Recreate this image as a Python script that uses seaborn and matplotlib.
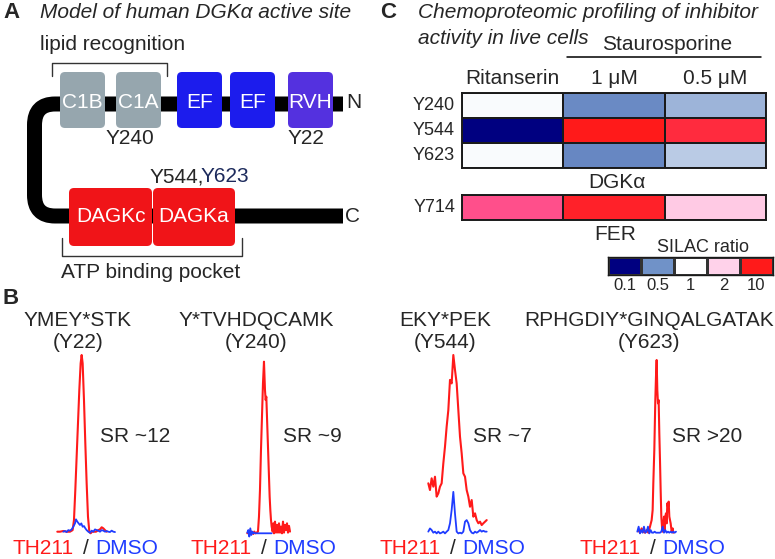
import numpy as np
import pandas as pd
import seaborn as sns
import matplotlib.pyplot as plt
from matplotlib.patches import FancyBboxPatch, PathPatch
from matplotlib.path import Path
from matplotlib.colors import LinearSegmentedColormap, LogNorm

W, H = 775, 559
RED = '#ff1a1a'
BLUE = '#1f3cff'

# panel A - domain map of DGKa
top_domains = ['C1B', 'C1A', 'EF', 'EF', 'RVH']
top_left = [60, 116, 177, 230, 288]
top_colors = ['#96a6ae', '#96a6ae', '#1c1ced', '#1c1ced', '#5431df']
bottom_domains = ['DAGKc', 'DAGKa']
bottom_left = [69, 153]
bottom_width = [83, 82]

# panel C - SILAC ratios
conditions = ['Ritanserin', '1 μM', '0.5 μM']
dgk_sites = ['Y240', 'Y544', 'Y623']
ratio_Y240 = [0.97, 0.46, 0.62]
ratio_Y544 = [0.1, 10, 8]
ratio_Y623 = [0.98, 0.44, 0.72]
fer_sites = ['Y714']
ratio_Y714 = [5, 9, 2.1]
silac_ticks = [0.1, 0.5, 1, 2, 10]
silac_labels = ['0.1', '0.5', '1', '2', '10']

# panel B - extracted ion chromatograms (relative intensity)
red1_rt = [2.2, 3.0, 4.0, 5.0, 6.0, 6.8, 7.2, 7.6, 8.0, 8.4, 8.8, 9.2, 9.5, 9.8, 10.2,
           10.6, 11.0, 11.4, 11.8, 12.2, 12.6, 13.2, 13.8, 14.5, 15.0, 15.5, 16.0, 16.5, 17.0]
red1_int = [0, 0, 0.4, 0, 0, 0.9, 6.6, 23.6, 42.5, 61.3, 80.2, 95.3, 100, 95.3, 74.5,
            50, 27.4, 8.5, 0, -0.9, 0, 0, 0, 0.9, 1.3, 2.5, 1.9, 0.9, 0]
blue1_rt = [4.0, 4.5, 5.0, 5.5, 6.0, 6.5, 7.0, 7.5, 7.8, 8.2, 8.6, 9.0, 9.4, 9.8, 10.2, 10.6, 11.0,
            11.5, 12.0, 12.5, 13.0, 13.5, 14.0, 14.5, 15.0, 15.5, 16.0, 16.5, 17.0, 17.5, 18.0,
            18.5, 19.0, 19.5]
blue1_int = [0, 0.4, -0.2, 0.9, 0.6, 1.3, 2.8, 4.7, 7, 5.7, 4.7, 3.8, 4.7, 2.8, 3.2, 1.9, 0.9,
             0, -0.6, 0.6, 0, 1.3, 0.9, 0.6, 0, 0.9, 0.6, 0, 0.4, 0, -0.2, 0.6, 0, -0.2]

red2_rt = [2.2, 2.5, 2.8, 3.1, 3.4, 3.7, 4.0, 4.3, 4.6, 5.0, 5.4, 5.7, 6.0, 6.3, 6.6, 6.9,
           7.2, 7.5, 7.7, 7.9, 8.1, 8.3, 8.5, 8.7, 8.9, 9.1, 9.3, 9.5, 9.8, 10.0, 10.2, 10.5,
           10.8, 11.1, 11.4, 11.7, 12.0, 12.3, 12.6, 12.9, 13.2, 13.5, 13.8, 14.1, 14.4, 14.7, 15.0]
red2_int = [0, 1, -0.4, 1.6, 0, 0.4, -0.4, 1, 0, 0.4, 1, 9.7, 25.2, 48.5, 67.9, 87.4,
            100, 83.5, 77.7, 79.6, 67.9, 56.3, 44.7, 33, 21.4, 13.6, 7.8, 3.9, 1, 5.8, 0, 6.8,
            0.4, 4.9, 0.4, 5.8, 0.4, 3.9, 0, 6.8, 0.4, 4.9, 1.9, 5.8, 0.4, 4.3, 1]
blue2_rt = [2.2, 2.5, 2.8, 3.1, 3.4, 3.7, 4.0, 4.3, 4.6, 5.0, 6.0, 7.0, 8.0, 9.0, 9.5]
blue2_int = [0.4, 1.9, -1.9, 2.9, -1, 1, 0, 0.4, 0, 0, 0, 0, 0, 0, 0]

red3_rt = [2.5, 3.0, 3.5, 4.0, 4.5, 5.0, 5.5, 6.0, 6.5, 7.0, 7.5, 8.0, 8.5, 9.0, 9.5, 10.0,
           10.5, 11.0, 11.5, 12.0, 12.5, 13.0, 13.5, 14.0, 14.5, 15.0, 15.5, 16.0, 16.5, 17.0,
           17.5, 18.0, 18.5, 19.0, 19.5, 20.0]
red3_int = [27.8, 24, 30.6, 25.9, 31.5, 20.3, 22.1, 25.9, 27.8, 39, 48.4, 59.7, 69, 86, 84, 100,
            91.6, 84, 69, 54, 44.7, 33.4, 31.5, 24, 20.3, 14.6, 18.4, 9, 10.9, 7.1,
            5.3, 6.2, 4.3, 5.3, 6.2, 7.1]
blue3_rt = red3_rt
blue3_int = [0.6, 2.4, 1.5, 0, 0.6, -0.4, 0.6, -0.4, 0, 0.6, -0.4, 0.6, 1.5, 5.3, 12.8, 23,
             10.7, 0.6, -0.4, 0, -0.4, 0.6, 6.2, 7.1, 5.3, 1.5, 0, -0.4, 0.6, 0,
             0.6, 1.5, 0.6, 1.1, 0.6, 0.6]

red4_rt = [2.5, 3.0, 3.5, 4.0, 4.5, 5.0, 5.5, 6.0, 6.5, 6.8, 7.0, 7.3, 7.6, 7.8, 8.0, 8.2,
           8.4, 8.6, 8.8, 9.0, 9.2, 9.4, 9.6, 9.8, 10.0, 10.2, 10.4, 10.6, 10.8, 11.0,
           11.2, 11.4, 11.6, 11.8, 12.0, 12.2, 12.5, 12.8, 13.0]
red4_int = [1.5, 0, 2.5, 0.6, 0, 1.5, 0, 3.5, 7.3, 13.1, 28.6, 47.9, 76.8, 90.3, 100, 82.6,
            74.9, 76.8, 57.5, 42.1, 24.7, 9.3, 3.5, 0.6, 5.4, 9.3, 1.5, 9.3, 11.2, 5.4,
            17, 15.1, 18, 9.3, 7.3, 5.4, 0.6, 2.5, 0]
blue4_rt = [2.2, 2.6, 3.0, 3.4, 3.8, 4.2, 4.6, 5.0, 5.4, 5.8, 6.2, 6.6, 7.0, 7.4, 7.8, 8.2,
            8.6, 9.0, 9.4, 9.8, 10.2, 10.6, 11.0, 11.4, 11.8, 12.2, 12.6, 13.0, 13.4, 13.8]
blue4_int = [0.6, 3.5, -0.4, 1.5, 0, 3.5, 0, 0.6, 3.5, -0.4, 1.5, 0, 0, 0.6, 0, 0,
             0, 0, 0.6, 3.5, 0, 1.5, 0, 0.6, 0, 0.6, 0, 0.6, 0, 0.6]

peptides = ['YMEY*STK', 'Y*TVHDQCAMK', 'EKY*PEK', 'RPHGDIY*GINQALGATAK']
sites = ['(Y22)', '(Y240)', '(Y544)', '(Y623)']
sr_labels = ['SR ~12', 'SR ~9', 'SR ~7', 'SR >20']

sns.set_theme(style='white')
plt.rcParams['font.family'] = ['Liberation Sans', 'DejaVu Sans']

fig = plt.figure(figsize=(W / 100, H / 100), dpi=100)


def px_axes(x0, y0, x1, y1):
    return fig.add_axes([x0 / W, 1 - y1 / H, (x1 - x0) / W, (y1 - y0) / H])


ax0 = px_axes(0, 0, W, H)
ax0.set_xlim(0, W)
ax0.set_ylim(H, 0)
ax0.axis('off')

# ---- Panel A ----
ax0.text(3, 12, 'A', fontsize=16, fontweight='bold', va='center')
ax0.text(40, 13, 'Model of human DGKα active site', fontsize=15, style='italic', va='center')
ax0.text(40, 45, 'lipid recognition', fontsize=15, va='center')

verts = [(343, 104), (55, 104), (34.5, 104), (34.5, 125), (34.5, 195),
         (34.5, 216), (55, 216), (343, 216)]
codes = [Path.MOVETO, Path.LINETO, Path.CURVE3, Path.CURVE3, Path.LINETO,
         Path.CURVE3, Path.CURVE3, Path.LINETO]
ax0.add_patch(PathPatch(Path(verts, codes), fill=False, lw=10.8, edgecolor='black',
                        capstyle='butt', joinstyle='round'))

for name, left, col in zip(top_domains, top_left, top_colors):
    ax0.add_patch(FancyBboxPatch((left, 72), 45, 56, boxstyle='round,pad=0,rounding_size=5',
                                 fc=col, ec='none'))
    ax0.text(left + 22.5, 103, name, color='white', fontsize=15, ha='center', va='center')
for name, left, w in zip(bottom_domains, bottom_left, bottom_width):
    ax0.add_patch(FancyBboxPatch((left, 188), w, 58, boxstyle='round,pad=0,rounding_size=5',
                                 fc='#f01418', ec='none'))
    ax0.text(left + w / 2, 216, name, color='white', fontsize=15, ha='center', va='center')

ax0.plot([51.7, 51.7, 166.7, 166.7], [76, 62.7, 62.7, 76], color='#333333', lw=1)
ax0.plot([61.7, 61.7, 241.7, 241.7], [238, 256, 256, 238], color='#333333', lw=1)
ax0.text(130, 138, 'Y240', fontsize=15, ha='center', va='center')
ax0.text(306, 138, 'Y22', fontsize=15, ha='center', va='center')
ax0.text(346, 103, 'N', fontsize=15, va='center')
ax0.text(345, 216, 'C', fontsize=15, va='center')
ax0.text(150, 177, 'Y544,', fontsize=15, va='center')
ax0.text(201, 177, 'Y623', fontsize=15, va='center', color='#1c2a5c')
ax0.text(61, 272, 'ATP binding pocket', fontsize=15, va='center')

# ---- Panel C ----
ax0.text(380, 12, 'C', fontsize=16, fontweight='bold', va='center')
ax0.text(418, 13, 'Chemoproteomic profiling of inhibitor', fontsize=15, style='italic', va='center')
ax0.text(418, 38, 'activity in live cells', fontsize=15, style='italic', va='center')
ax0.text(667, 45, 'Staurosporine', fontsize=15, ha='center', va='center')
ax0.plot([567, 761], [57.3, 57.3], color='black', lw=1.1)
ax0.text(617, 182, 'DGKα', fontsize=15, ha='center', va='center')
ax0.text(615, 234, 'FER', fontsize=15, ha='center', va='center')
ax0.text(703, 248, 'SILAC ratio', fontsize=13, ha='center', va='center')

# log-scale palette anchored at 0.1, 0.5, 1, 2, 5, 10
cmap = LinearSegmentedColormap.from_list(
    'silac', [(0, '#000080'), (0.349, '#7092c8'), (0.5, '#ffffff'), (0.651, '#ffd2ea'),
              (0.849, '#ff508c'), (1, '#ff1a1a')])
norm = LogNorm(vmin=0.1, vmax=10)

dgk = pd.DataFrame([ratio_Y240, ratio_Y544, ratio_Y623], index=dgk_sites, columns=conditions)
fer = pd.DataFrame([ratio_Y714], index=fer_sites, columns=conditions)
silac = pd.DataFrame([silac_ticks], columns=silac_labels)


def style_heat(ax, lw):
    ax.set_xlabel('')
    ax.set_ylabel('')
    for sp in ax.spines.values():
        sp.set_visible(True)
        sp.set_linewidth(lw)
        sp.set_color('#1a1a1a')


ax_d = px_axes(462, 93.3, 766, 168.3)
sns.heatmap(dgk, ax=ax_d, cmap=cmap, norm=norm, cbar=False, linewidths=1.4, linecolor='#1a1a1a')
ax_d.xaxis.tick_top()
ax_d.tick_params(axis='x', length=0, labelsize=15, pad=4)
ax_d.tick_params(axis='y', length=0, labelsize=13, pad=5, rotation=0)
style_heat(ax_d, 1.4)

ax_f = px_axes(462, 195, 766, 220)
sns.heatmap(fer, ax=ax_f, cmap=cmap, norm=norm, cbar=False, linewidths=1.4, linecolor='#1a1a1a',
            xticklabels=False)
ax_f.tick_params(axis='y', length=0, labelsize=13, pad=5, rotation=0)
style_heat(ax_f, 1.4)

ax_c = px_axes(608.3, 256.7, 772.7, 275)
sns.heatmap(silac, ax=ax_c, cmap=cmap, norm=norm, cbar=False, linewidths=0.8, linecolor='#333333',
            yticklabels=False)
ax_c.tick_params(axis='x', length=0, labelsize=12, pad=2, rotation=0)
style_heat(ax_c, 1.0)

# ---- Panel B ----
ax0.text(3, 299, 'B', fontsize=16, fontweight='bold', va='center')

traces = [
    (red1_rt, red1_int, blue1_rt, blue1_int, (57.3, 355, 115, 531.7)),
    (red2_rt, red2_int, blue2_rt, blue2_int, (247.3, 361.7, 290, 533.3)),
    (red3_rt, red3_int, blue3_rt, blue3_int, (428.3, 355, 486.7, 532.7)),
    (red4_rt, red4_int, blue4_rt, blue4_int, (637.3, 360, 676, 532.7)),
]
pep_x = [78, 256, 445, 649]
sr_x = [100, 283, 473, 672]
slash_x = [86, 264, 453, 653]

for (rr, ri, br, bi, box) in traces:
    ax = px_axes(*box)
    sns.lineplot(x=rr, y=ri, ax=ax, color=RED, lw=1.5, errorbar=None, clip_on=False)
    sns.lineplot(x=br, y=bi, ax=ax, color=BLUE, lw=1.3, errorbar=None, clip_on=False)
    ax.set_xlim(min(rr[0], br[0]), max(rr[-1], br[-1]))
    ax.set_ylim(0, 100)
    ax.axis('off')

for pep, site, sr, px, sx, cx in zip(peptides, sites, sr_labels, pep_x, sr_x, slash_x):
    ax0.text(px, 320, pep, fontsize=15, ha='center', va='center')
    ax0.text(px, 343, site, fontsize=15, ha='center', va='center')
    ax0.text(sx, 437, sr, fontsize=15, va='center')
    ax0.text(cx, 548, '/', fontsize=15, ha='center', va='center')
    ax0.text(cx - 12, 548, 'TH211', fontsize=15, ha='right', va='center', color=RED)
    ax0.text(cx + 9, 548, 'DMSO', fontsize=15, ha='left', va='center', color=BLUE)

fig.savefig('out.png', dpi=100)
